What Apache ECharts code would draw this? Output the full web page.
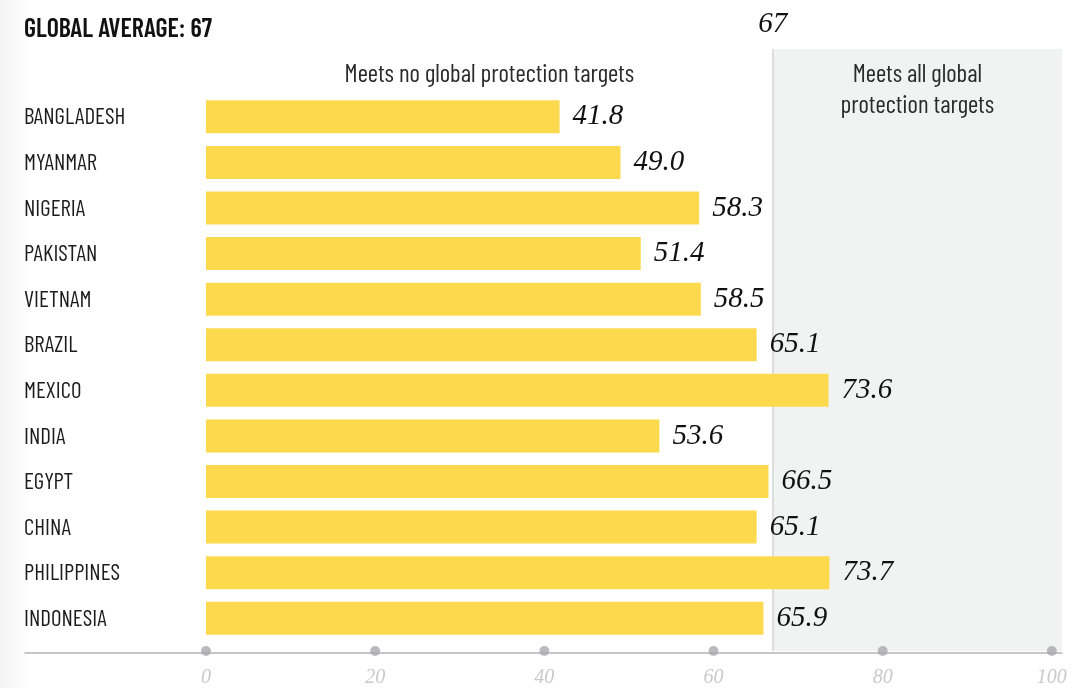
<!DOCTYPE html>
<html>
<head>
<meta charset="utf-8">
<script src="https://cdn.jsdelivr.net/npm/echarts@6/dist/echarts.min.js"></script>
<style>
  html, body { margin: 0; padding: 0; background: #ffffff; }
  #chart { width: 1080px; height: 688px; }
</style>
</head>
<body>
<div id="chart"></div>
<script>
// Protection scores by country
const countries = ['BANGLADESH', 'MYANMAR', 'NIGERIA', 'PAKISTAN', 'VIETNAM', 'BRAZIL',
                   'MEXICO', 'INDIA', 'EGYPT', 'CHINA', 'PHILIPPINES', 'INDONESIA'];
const scores = [41.8, 49.0, 58.3, 51.4, 58.5, 65.1, 73.6, 53.6, 66.5, 65.1, 73.7, 65.9];
const globalAverage = 67;
const tickValues = [0, 20, 40, 60, 80, 100];
const panelEnd = 101.2;          // shaded panel runs slightly past the last tick
const zoneLabels = ['Meets no global protection targets', 'Meets all global\nprotection targets'];
const titleText = 'GLOBAL AVERAGE: 67';

const NARROW = '"Barlow Condensed", "Roboto Condensed", sans-serif';
const SERIF = '"Liberation Serif", "DejaVu Serif", serif';

const chart = echarts.init(document.getElementById('chart'), null, { renderer: 'canvas' });

const sharedX = {
  type: 'value', min: 0, max: panelEnd, interval: 20,
  splitLine: { show: false }, axisTick: { show: false }, axisLine: { show: false }
};

chart.setOption({
  backgroundColor: {
    type: 'linear', x: 0, y: 0, x2: 1, y2: 0,
    colorStops: [
      { offset: 0, color: '#f2f2f2' },
      { offset: 0.012, color: '#f9f9f9' },
      { offset: 0.03, color: '#ffffff' },
      { offset: 1, color: '#ffffff' }
    ]
  },
  animation: false,
  title: {
    text: titleText, left: 24, top: 15, padding: 0,
    textStyle: { fontFamily: NARROW, fontWeight: 600, fontSize: 26, color: '#111111' }
  },
  grid: [
    { left: 206, right: 18, top: 94, bottom: 47 },   // bars
    { left: 206, right: 18, top: 49, bottom: 35 },   // panel, average line, tick dots
    { left: 25, right: 18, bottom: 35, height: 0 }   // full-width baseline
  ],
  xAxis: [
    Object.assign({}, sharedX, { gridIndex: 0, axisLabel: { show: false } }),
    Object.assign({}, sharedX, {
      gridIndex: 1,
      axisLabel: {
        show: true, margin: 17, showMaxLabel: false,
        fontFamily: SERIF, fontStyle: 'italic', fontSize: 20, color: '#c9c9c9',
        formatter: v => (tickValues.indexOf(v) >= 0 ? String(v) : '')
      }
    }),
    {
      type: 'value', gridIndex: 2, min: 0, max: 1,
      splitLine: { show: false }, axisTick: { show: false }, axisLabel: { show: false },
      axisLine: { show: true, lineStyle: { color: '#b4b4b6', width: 1.5 } }
    }
  ],
  yAxis: [
    {
      type: 'category', gridIndex: 0, data: countries, inverse: true,
      axisLine: { show: false }, axisTick: { show: false },
      axisLabel: {
        align: 'left', margin: 182,
        fontFamily: NARROW, fontSize: 23, color: '#1c1c1c', padding: [6, 0, 0, 0]
      }
    },
    { type: 'value', gridIndex: 1, min: 0, max: 1, show: false },
    { type: 'value', gridIndex: 2, min: 0, max: 1, show: false }
  ],
  series: [
    {
      type: 'scatter',
      xAxisIndex: 1, yAxisIndex: 1,
      data: tickValues.map(v => [v, 0]),
      symbol: 'circle', symbolSize: 10,
      itemStyle: { color: '#a9a9ae' },
      z: 2,
      silent: true,
      clip: false,
      markArea: {
        silent: true,
        z: 0,
        label: {
          position: 'insideTop', distance: 9,
          fontFamily: NARROW, fontSize: 25, lineHeight: 31, color: '#2a2a2a'
        },
        data: [
          [{ xAxis: 0, name: zoneLabels[0], itemStyle: { color: 'rgba(0,0,0,0)' } }, { xAxis: globalAverage }],
          [{ xAxis: globalAverage, name: zoneLabels[1], itemStyle: { color: '#f1f3f2' } }, { xAxis: panelEnd }]
        ]
      },
      markLine: {
        silent: true,
        z: 1,
        symbol: ['none', 'none'],
        lineStyle: { color: '#dcdedd', width: 2, type: 'solid' },
        label: {
          show: true, position: 'end', distance: 10,
          fontFamily: SERIF, fontStyle: 'italic', fontSize: 29, color: '#111111',
          formatter: String(globalAverage)
        },
        data: [{ xAxis: globalAverage }]
      }
    },
    {
      type: 'bar',
      xAxisIndex: 0, yAxisIndex: 0,
      data: scores,
      barWidth: 33,
      itemStyle: { color: '#fdda4d' },
      z: 4,
      label: {
        show: true, position: 'right', distance: 13,
        fontFamily: SERIF, fontStyle: 'italic', fontSize: 29, color: '#111111',
        formatter: p => p.value.toFixed(1)
      }
    }
  ]
});
</script>
</body>
</html>
